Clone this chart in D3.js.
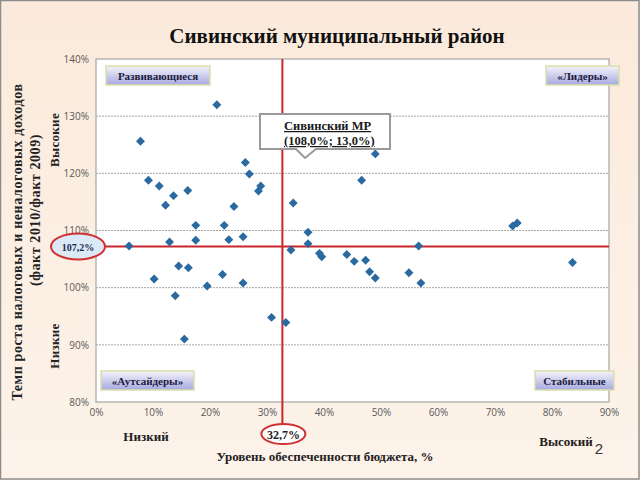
<!DOCTYPE html>
<html><head><meta charset="utf-8">
<script src="https://cdn.jsdelivr.net/npm/d3@7"></script>
<style>
html,body{margin:0;padding:0;background:#fcefe3;}
svg{display:block;}
</style></head>
<body>
<script>
// ---- data ----
const budgetLevel = [7.8,21.2,9.2,11.1,13.6,12.2,16.1,17.5,22.5,24.2,26.2,26.9,28.5,28.9,34.6,49.0,46.6,73.1,73.9,5.8,12.9,17.5,23.3,25.8,37.2,37.2,34.2,39.2,39.6,14.5,16.2,10.2,22.2,19.5,25.8,13.9,30.8,33.3,15.5,44.0,45.3,47.3,48.0,49.0,54.9,56.6,57.0,83.6];
const growthRate  = [125.6,132.0,118.8,117.8,116.1,114.4,117.0,110.9,110.9,114.2,121.9,119.9,116.9,117.8,114.8,123.4,118.8,110.8,111.3,107.3,108.0,108.3,108.4,108.9,109.7,107.7,106.6,106.0,105.4,103.8,103.5,101.5,102.3,100.3,100.8,98.6,94.8,93.9,91.0,105.8,104.6,104.8,102.8,101.7,102.6,107.3,100.8,104.4];
const xTicks = [0,10,20,30,40,50,60,70,80,90];
const yTicks = [80,90,100,110,120,130,140];
const avgX = 32.7, avgY = 107.2;
const quadrantLabels = ["Развивающиеся","«Лидеры»","«Аутсайдеры»","Стабильные"];
const calloutLines = ["Сивинский МР","(108,0%; 13,0%)"];

const W=640,H=480;
const L=96,R=609,T=59,B=402;
const svg=d3.select("body").append("svg").attr("width",W).attr("height",H);
const defs=svg.append("defs");
const bg=defs.append("linearGradient").attr("id","bg").attr("x1",0).attr("y1",0).attr("x2",0).attr("y2",1);
bg.append("stop").attr("offset","0").attr("stop-color","#fbeadb");
bg.append("stop").attr("offset","1").attr("stop-color","#fdf3ea");
const qg=defs.append("linearGradient").attr("id","qg").attr("x1",0).attr("y1",0).attr("x2",0).attr("y2",1);
qg.append("stop").attr("offset","0").attr("stop-color","#f4f3fb");
qg.append("stop").attr("offset","1").attr("stop-color","#a7a9e0");

svg.append("rect").attr("x",0).attr("y",0).attr("width",W).attr("height",H).attr("fill","url(#bg)");
svg.append("rect").attr("x",0.5).attr("y",0.5).attr("width",W-1.5).attr("height",H-1.5).attr("fill","none").attr("stroke","#8c8c8c").attr("stroke-width",1.5);

const x=d3.scaleLinear().domain([0,90]).range([L,R]);
const y=d3.scaleLinear().domain([80,140]).range([B,T]);

// plot background
svg.append("rect").attr("x",L).attr("y",T).attr("width",R-L).attr("height",B-T).attr("fill","#ffffff");

// gridlines
svg.append("g").selectAll("line").data(yTicks.filter(d=>d>80&&d<140)).join("line")
  .attr("x1",L).attr("x2",R).attr("y1",d=>y(d)).attr("y2",d=>y(d))
  .attr("stroke","#a6a6a6").attr("stroke-width",1).attr("stroke-dasharray","2,1");

svg.append("rect").attr("x",L).attr("y",T).attr("width",R-L).attr("height",B-T).attr("fill","none").attr("stroke","#a6a6a6").attr("stroke-width",1.2);

// axes
const ax=svg.append("g").attr("transform",`translate(0,${B})`)
  .call(d3.axisBottom(x).tickValues(xTicks).tickFormat(d=>d+"%").tickSize(0).tickPadding(7));
const ay=svg.append("g").attr("transform",`translate(${L},0)`)
  .call(d3.axisLeft(y).tickValues(yTicks).tickFormat(d=>d+"%").tickSize(0).tickPadding(7));
[ax,ay].forEach(g=>{g.select(".domain").remove();
  g.selectAll("text").attr("fill","#595959").attr("font-family","'Open Sans',sans-serif").attr("font-size",10);});

// red average lines
svg.append("line").attr("x1",x(0)).attr("x2",R).attr("y1",y(avgY)).attr("y2",y(avgY)).attr("stroke","#c9262c").attr("stroke-width",2);
svg.append("line").attr("x1",x(avgX)).attr("x2",x(avgX)).attr("y1",T).attr("y2",424).attr("stroke","#c9262c").attr("stroke-width",2);

// points (rotated squares = diamonds)
const sym=d3.symbol().type(d3.symbolSquare).size(40);
svg.append("g").selectAll("path").data(budgetLevel.map((v,i)=>[v,growthRate[i]])).join("path")
  .attr("d",sym).attr("transform",d=>`translate(${x(d[0])},${y(d[1])}) rotate(45)`)
  .attr("fill","#2a6aa0");

// quadrant labels
const qpos=[[106,66,104,19],[546,66,73,19],[101,371,93,19],[535,371,79,19]];
quadrantLabels.forEach((t,i)=>{
  const [qx,qy,qw,qh]=qpos[i];
  svg.append("rect").attr("x",qx).attr("y",qy).attr("width",qw).attr("height",qh).attr("fill","url(#qg)").attr("stroke","#d9e0a8").attr("stroke-width",1.5);
  svg.append("text").attr("x",qx+qw/2).attr("y",qy+13.5).attr("text-anchor","middle")
    .attr("font-family","'Liberation Serif',serif").attr("font-weight","bold").attr("font-size",11).attr("fill","#1c1c40").text(t);
});

// callout
svg.append("path").attr("d","M260,114 H390 V149 H316 L305,158 L296,149 H260 Z")
  .attr("fill","#ffffff").attr("stroke","#9a9a9a").attr("stroke-width",2);
calloutLines.forEach((t,i)=>{
  svg.append("text").attr("x",284).attr("y",130+i*15).attr("font-family","'Liberation Serif',serif")
   .attr("font-weight","bold").attr("font-size",12.5).attr("fill","#1a1a1a").attr("text-decoration","underline").text(t);
});

// title
svg.append("text").attr("x",337).attr("y",43).attr("text-anchor","middle").attr("font-family","'Liberation Serif',serif")
  .attr("font-weight","bold").attr("font-size",21).attr("fill","#111").text("Сивинский муниципальный район");

// y axis titles
const serif="'Liberation Serif',serif";
svg.append("text").attr("transform","translate(22,242) rotate(-90)").attr("text-anchor","middle").attr("font-family",serif)
  .attr("font-weight","bold").attr("font-size",14).attr("letter-spacing",0.6).attr("fill","#222").text("Темп роста налоговых и неналоговых доходов");
svg.append("text").attr("transform","translate(40,210) rotate(-90)").attr("text-anchor","middle").attr("font-family",serif)
  .attr("font-weight","bold").attr("font-size",14).attr("letter-spacing",0.6).attr("fill","#222").text("(факт 2010/факт 2009)");
svg.append("text").attr("transform","translate(59,140) rotate(-90)").attr("text-anchor","middle").attr("font-family",serif)
  .attr("font-weight","bold").attr("font-size",13).attr("letter-spacing",0.3).attr("fill","#222").text("Высокие");
svg.append("text").attr("transform","translate(59,346) rotate(-90)").attr("text-anchor","middle").attr("font-family",serif)
  .attr("font-weight","bold").attr("font-size",13).attr("letter-spacing",0.3).attr("fill","#222").text("Низкие");

// ellipses
svg.append("ellipse").attr("cx",78).attr("cy",y(avgY)).attr("rx",27).attr("ry",13).attr("fill","#dbe8f6").attr("stroke","#d0302f").attr("stroke-width",2);
svg.append("text").attr("x",78).attr("y",y(avgY)+4).attr("text-anchor","middle").attr("font-family",serif)
  .attr("font-weight","bold").attr("font-size",10).attr("fill","#1c2a50").text("107,2%");
svg.append("ellipse").attr("cx",x(avgX)+1).attr("cy",434).attr("rx",22).attr("ry",10).attr("fill","#ffffff").attr("stroke","#d0302f").attr("stroke-width",2);
svg.append("text").attr("x",x(avgX)+1).attr("y",439).attr("text-anchor","middle").attr("font-family",serif)
  .attr("font-weight","bold").attr("font-size",12).attr("fill","#222").text("32,7%");

// x labels
svg.append("text").attr("x",146).attr("y",441).attr("text-anchor","middle").attr("font-family",serif)
  .attr("font-weight","bold").attr("font-size",13).attr("fill","#222").text("Низкий");
svg.append("text").attr("x",566).attr("y",446).attr("text-anchor","middle").attr("font-family",serif)
  .attr("font-weight","bold").attr("font-size",13).attr("fill","#222").text("Высокий");
svg.append("text").attr("x",599).attr("y",454).attr("text-anchor","middle").attr("font-family","'Liberation Sans',sans-serif")
  .attr("font-size",15).attr("fill","#333").text("2");
svg.append("text").attr("x",325).attr("y",461).attr("text-anchor","middle").attr("font-family",serif)
  .attr("font-weight","bold").attr("font-size",13).attr("fill","#222").text("Уровень обеспеченности бюджета, %");
</script>
</body></html>
